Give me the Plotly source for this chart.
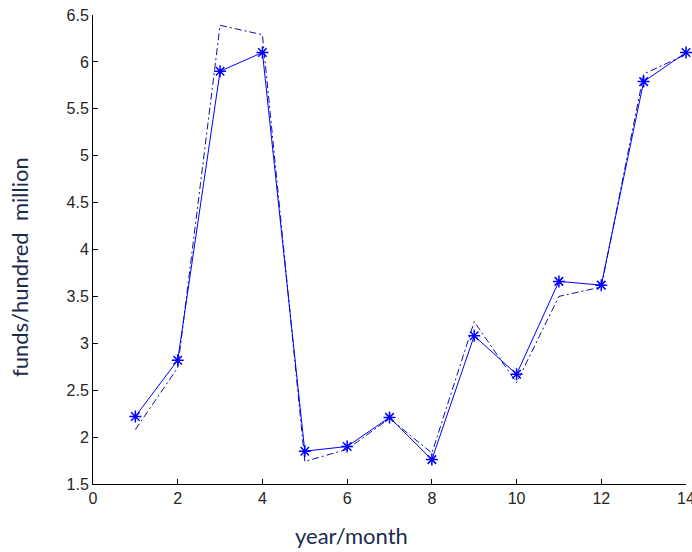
import plotly.graph_objects as go

months = [1, 2, 3, 4, 5, 6, 7, 8, 9, 10, 11, 12, 13, 14]
actual = [2.22, 2.82, 5.9, 6.1, 1.85, 1.9, 2.21, 1.76, 3.08, 2.67, 3.66, 3.62, 5.79, 6.1]
predicted = [2.08, 2.74, 6.39, 6.29, 1.74, 1.87, 2.2, 1.83, 3.23, 2.58, 3.5, 3.6, 5.87, 6.08]

x_ticks = [0, 2, 4, 6, 8, 10, 12, 14]
y_ticks = [1.5, 2, 2.5, 3, 3.5, 4, 4.5, 5, 5.5, 6, 6.5]

W, H = 692, 552
L, R, T, B = 93, 6, 15, 68

fig = go.Figure()
fig.add_trace(go.Scatter(
    x=months, y=predicted, mode="lines",
    line=dict(color="#1010a0", width=1, dash="7px,3px,2px,3px"),
    cliponaxis=False, showlegend=False, hoverinfo="skip"))
fig.add_trace(go.Scatter(
    x=months, y=actual, mode="lines+markers",
    line=dict(color="#0000ff", width=1),
    marker=dict(symbol="asterisk-open", size=10, color="#0000ff",
                line=dict(color="#0000ff", width=1.5)),
    cliponaxis=False, showlegend=False, hoverinfo="skip"))

axis_font = dict(family="Liberation Sans, Arial, sans-serif", size=16, color="#262626")
label_font = dict(family="Lato, Open Sans, sans-serif", size=22, color="#1c2c4c")

fig.update_layout(
    width=W, height=H,
    margin=dict(l=L, r=R, t=T, b=B),
    paper_bgcolor="white", plot_bgcolor="white",
    xaxis=dict(range=[0, 14], tickvals=x_ticks, ticktext=[str(v) for v in x_ticks],
               ticks="inside", ticklen=5, tickcolor="black",
               showline=True, linecolor="black", linewidth=1,
               showgrid=False, zeroline=False, tickfont=axis_font,
               automargin=False, ticklabeloverflow="allow"),
    yaxis=dict(range=[1.5, 6.5], tickvals=y_ticks, ticktext=[f"{v:g}" for v in y_ticks],
               ticks="inside", ticklen=5, tickcolor="black",
               showline=True, linecolor="black", linewidth=1,
               showgrid=False, zeroline=False, tickfont=axis_font,
               automargin=False, ticklabeloverflow="allow"),
    annotations=[
        dict(text="year/month", xref="paper", yref="paper",
             x=(351 - L) / (W - L - R), y=-(535 - (H - B)) / (H - T - B),
             xanchor="center", yanchor="middle", showarrow=False, font=label_font),
        dict(text="funds/hundred  million", xref="paper", yref="paper",
             x=-(L - 19) / (W - L - R), y=((H - B) - 267) / (H - T - B),
             xanchor="center", yanchor="middle", showarrow=False, textangle=-90,
             font=label_font),
    ],
)

fig.write_html("out.html", config={"displayModeBar": False, "staticPlot": True},
               post_script="document.body.style.margin='0';document.body.style.overflow='hidden';")
